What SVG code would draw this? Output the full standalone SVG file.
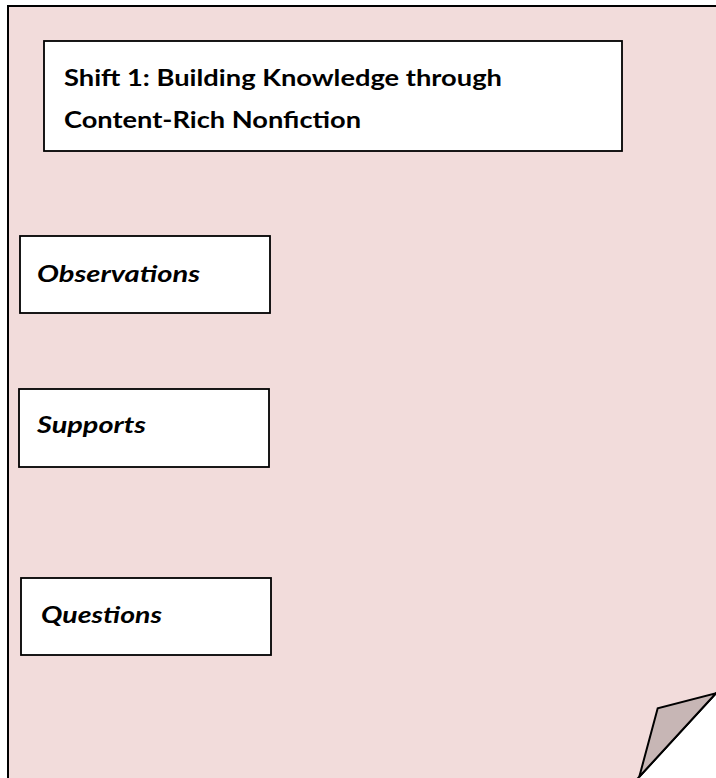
<svg xmlns="http://www.w3.org/2000/svg" width="716" height="778" viewBox="0 0 716 778">
<style>
.page{fill:#F2DCDB;stroke:#000;stroke-width:2}
.fold{fill:#C7B6B5;stroke:#000;stroke-width:2;stroke-linejoin:miter}
.box{fill:#fff;stroke:#000;stroke-width:1.8}
.t{font-family:Lato,"Open Sans","Liberation Sans",sans-serif;font-weight:700;font-size:22px;fill:#000}
.i{font-style:italic}
</style>
<rect width="716" height="778" fill="#fff"/>
<g id="page">
<polygon class="page" points="8,6 718,6 718,691.1 636.3,780 8,780"/>
<polygon class="fold" points="639.3,776.7 657.7,708.3 716,693.3"/>
</g>
<g id="title">
<rect class="box" x="44" y="41" width="578" height="110"/>
<text class="t" x="64" y="86" textLength="438" lengthAdjust="spacingAndGlyphs">Shift 1: Building Knowledge through</text>
<text class="t" x="64" y="128" textLength="297" lengthAdjust="spacingAndGlyphs">Content-Rich Nonfiction</text>
</g>
<g id="observations">
<rect class="box" x="20" y="236" width="250" height="77"/>
<text class="t i" x="37" y="282" textLength="163" lengthAdjust="spacingAndGlyphs">Observations</text>
</g>
<g id="supports">
<rect class="box" x="19" y="389" width="250" height="78"/>
<text class="t i" x="37" y="433" textLength="109" lengthAdjust="spacingAndGlyphs">Supports</text>
</g>
<g id="questions">
<rect class="box" x="21" y="578" width="250" height="77"/>
<text class="t i" x="41" y="623" textLength="121" lengthAdjust="spacingAndGlyphs">Questions</text>
</g>
<g id="connectors"/>
</svg>
